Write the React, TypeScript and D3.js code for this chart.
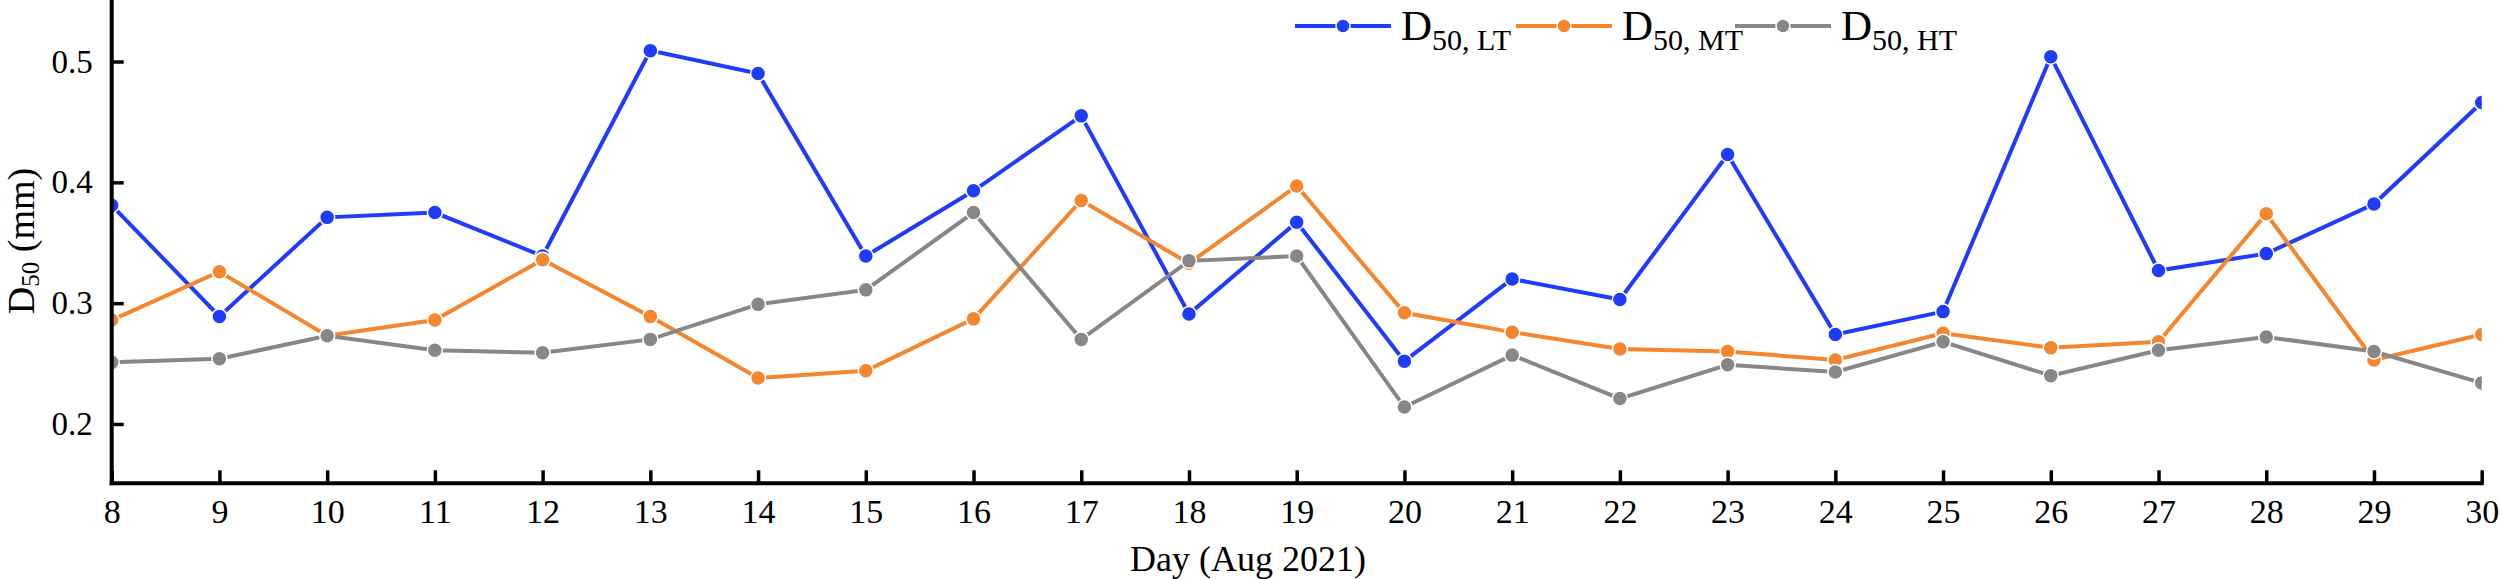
import React, { useRef, useEffect } from 'react';
import * as d3 from 'd3';

// Day of month (Aug 2021)
const days = [8, 9, 10, 11, 12, 13, 14, 15, 16, 17, 18, 19, 20, 21, 22, 23, 24, 25, 26, 27, 28, 29, 30];

// D50 (mm) per tide level
const d50LT = [0.381, 0.289, 0.371, 0.375, 0.339, 0.509, 0.490, 0.339, 0.393, 0.455, 0.291, 0.367, 0.252, 0.320, 0.303, 0.423, 0.274, 0.293, 0.504, 0.327, 0.341, 0.382, 0.466];
const d50MT = [0.286, 0.326, 0.273, 0.286, 0.336, 0.289, 0.238, 0.244, 0.287, 0.385, 0.333, 0.397, 0.292, 0.276, 0.262, 0.260, 0.253, 0.275, 0.263, 0.268, 0.374, 0.253, 0.274];
const d50HT = [0.251, 0.254, 0.273, 0.261, 0.259, 0.270, 0.299, 0.311, 0.375, 0.270, 0.335, 0.339, 0.214, 0.257, 0.221, 0.249, 0.243, 0.268, 0.240, 0.261, 0.272, 0.260, 0.234];

const yTicks = [0.2, 0.3, 0.4, 0.5];
const seriesNames = ['LT', 'MT', 'HT'];
const seriesColors = ['#1f3cfb', '#f5862d', '#878787'];

const App: React.FC = () => {
  const svgRef = useRef<SVGSVGElement | null>(null);

  useEffect(() => {
    const svg = d3.select(svgRef.current);
    svg.selectAll('*').remove();
    const width = 2500;
    const height = 579;
    const left = 111.7, right = 2481.7, bottom = 483.3, top = 0;
    const font = '"Liberation Serif", "Times New Roman", serif';

    svg.attr('width', width).attr('height', height).style('background', '#fff');

    const x = d3.scaleLinear().domain([8, 30]).range([left, right]);
    const y = d3.scaleLinear().domain([0.1509, 0.5509]).range([bottom, top]);

    svg.append('defs').append('clipPath').attr('id', 'plotclip')
      .append('rect').attr('x', left).attr('y', top).attr('width', right - left).attr('height', bottom - top);

    const series = [d50LT, d50MT, d50HT];
    const plot = svg.append('g').attr('clip-path', 'url(#plotclip)');
    const line = d3.line<number>().x((_, i) => x(days[i])).y(d => y(d));

    series.forEach((vals, si) => {
      const g = plot.append('g');
      g.append('path')
        .attr('d', line(vals))
        .attr('fill', 'none')
        .attr('stroke', seriesColors[si])
        .attr('stroke-width', 4);
      g.selectAll('circle')
        .data(vals)
        .enter()
        .append('circle')
        .attr('cx', (_, i) => x(days[i]))
        .attr('cy', d => y(d))
        .attr('r', 7.5)
        .attr('fill', seriesColors[si])
        .attr('stroke', '#fff')
        .attr('stroke-width', 1.5);
    });

    // axes
    const xAxis = svg.append('g')
      .attr('transform', `translate(0,${bottom})`)
      .call(d3.axisBottom(x).tickValues(days).tickSize(-13).tickPadding(16).tickFormat(d3.format('d')));
    xAxis.select('.domain').attr('stroke', '#000').attr('stroke-width', 4).attr('d', `M${left - 2},0H${right + 2}`);
    xAxis.selectAll('.tick line').attr('stroke', '#000').attr('stroke-width', 3.5);
    xAxis.selectAll('.tick text')
      .attr('dy', '0.71em')
      .style('font-family', font)
      .style('font-size', '34px')
      .attr('fill', '#000');

    const yAxis = svg.append('g')
      .attr('transform', `translate(${left},0)`)
      .call(d3.axisLeft(y).tickValues(yTicks).tickSize(-12).tickPadding(19).tickFormat(d3.format('.1f')));
    yAxis.select('.domain').attr('stroke', '#000').attr('stroke-width', 4).attr('d', `M0,${bottom + 2}V${top}`);
    yAxis.selectAll('.tick line').attr('stroke', '#000').attr('stroke-width', 3.5);
    yAxis.selectAll('.tick text')
      .style('font-family', font)
      .style('font-size', '33px')
      .attr('fill', '#000');

    // legend
    const legendX = [1295, 1516, 1735];
    seriesNames.forEach((name, i) => {
      const lg = svg.append('g').attr('transform', `translate(${legendX[i]},26)`);
      lg.append('line').attr('x1', 0).attr('x2', 96).attr('y1', 0).attr('y2', 0)
        .attr('stroke', seriesColors[i]).attr('stroke-width', 4);
      lg.append('circle').attr('cx', 48).attr('cy', 0).attr('r', 7)
        .attr('fill', seriesColors[i]).attr('stroke', '#fff').attr('stroke-width', 1.5);
      const t = lg.append('text').attr('x', 106).attr('y', 14)
        .style('font-family', font).attr('fill', '#000');
      t.append('tspan').style('font-size', '43px').text('D');
      t.append('tspan').style('font-size', '30px').attr('dy', 10).text(`50, ${name}`);
    });

    // axis titles
    svg.append('text')
      .attr('x', 1248)
      .attr('y', 571)
      .attr('text-anchor', 'middle')
      .style('font-family', font)
      .style('font-size', '36px')
      .text('Day (Aug 2021)');

    const yt = svg.append('text')
      .attr('transform', 'translate(34,241) rotate(-90)')
      .attr('text-anchor', 'middle')
      .style('font-family', font)
      .attr('fill', '#000');
    yt.append('tspan').style('font-size', '38px').text('D');
    yt.append('tspan').style('font-size', '25px').attr('dy', 5).text('50');
    yt.append('tspan').style('font-size', '38px').attr('dy', -5).text(' (mm)');
  }, []);

  return <svg ref={svgRef} style={{ position: 'absolute', left: 0, top: 0 }}></svg>;
};

export default App;
